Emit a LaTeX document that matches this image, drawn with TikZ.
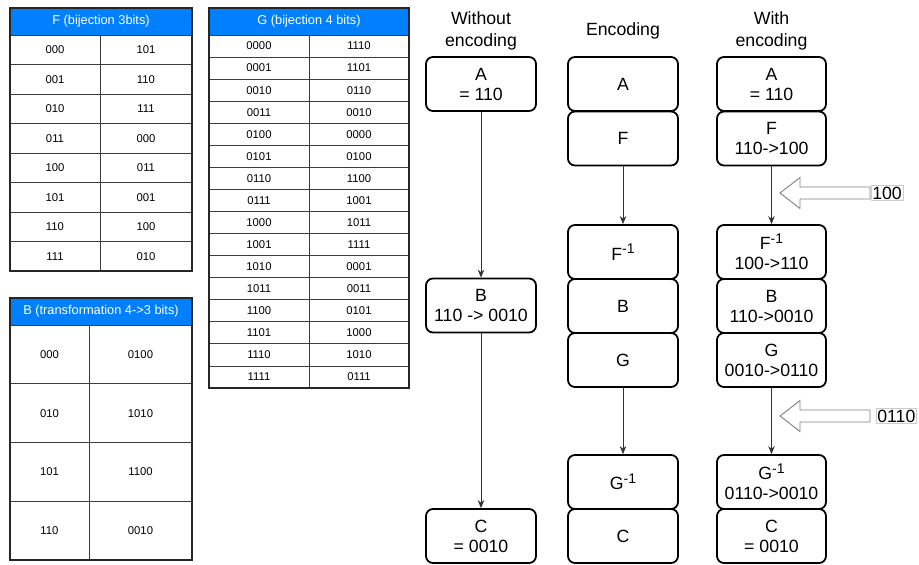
\documentclass[tikz,border=0pt]{standalone}
\usepackage{fontspec}
\setmainfont{Liberation Sans}
\usetikzlibrary{arrows.meta}
\definecolor{hdrblue}{RGB}{0,128,255}
\definecolor{gridc}{RGB}{60,60,60}
\newcommand{\invsup}{\raisebox{6.5pt}{\fontsize{14}{14}\selectfont -1}}
\begin{document}
\begin{tikzpicture}[x=1pt,y=-1pt,
  box/.style={draw, line width=1.8pt, rounded corners=7pt, minimum width=110pt,
    minimum height=54pt, align=center, font=\fontsize{17.7}{20}\selectfont, inner sep=0pt},
  ttl/.style={align=center, font=\fontsize{17.7}{22}\selectfont, inner sep=0pt},
  cell/.style={font=\fontsize{11.3}{13}\selectfont, inner sep=0pt},
  hdr/.style={font=\fontsize{12.8}{14}\selectfont, text=white, inner sep=0pt},
  hdrfill/.style={fill=hdrblue, draw=none},
  grid/.style={draw=gridc, line width=0.8pt},
  outer/.style={draw=black!85, line width=1.6pt},
  conn/.style={draw=black!80, line width=0.8pt, -{Stealth[length=8pt,width=6.5pt]}},
  blk/.style={draw=black!50, line width=0.9pt, fill=white},
  lbl/.style={draw=black!20, line width=0.6pt, font=\fontsize{17.7}{20}\selectfont, inner sep=1pt}
]
\useasboundingbox (0,0) rectangle (919,565);

% ---------- F table ----------
\fill[hdrfill] (10,8) rectangle (192,35);
\node[hdr] (fh) at (101,21.5) {F (bijection 3bits)};
\foreach \i/\a/\b in {0/000/101,1/001/110,2/010/111,3/011/000,4/100/011,5/101/001,6/110/100,7/111/010}{
  \pgfmathsetmacro{\yc}{35+29.5*\i+14.75}
  \node[cell] (f\i a) at (55,\yc) {\a};
  \node[cell] (f\i b) at (146,\yc) {\b};
}
\foreach \i in {1,...,8}{ \draw[grid] (10,35+29.5*\i) -- (192,35+29.5*\i); }
\draw[grid] (10,35) -- (192,35);
\draw[grid] (100,35) -- (100,271);
\draw[outer] (10,8) rectangle (192,271);

% ---------- G table ----------
\fill[hdrfill] (209,8) rectangle (409,35);
\node[hdr] (gh) at (309,21.5) {G (bijection 4 bits)};
\foreach \i/\a/\b in {0/0000/1110,1/0001/1101,2/0010/0110,3/0011/0010,4/0100/0000,5/0101/0100,6/0110/1100,7/0111/1001,8/1000/1011,9/1001/1111,10/1010/0001,11/1011/0011,12/1100/0101,13/1101/1000,14/1110/1010,15/1111/0111}{
  \pgfmathsetmacro{\yc}{35+22.0625*\i+11.03}
  \node[cell] (g\i a) at (259,\yc) {\a};
  \node[cell] (g\i b) at (359,\yc) {\b};
}
\foreach \i in {1,...,15}{ \draw[grid] (209,35+22.0625*\i) -- (409,35+22.0625*\i); }
\draw[grid] (209,35) -- (409,35);
\draw[grid] (309,35) -- (309,388);
\draw[outer] (209,8) rectangle (409,388);

% ---------- B table ----------
\fill[hdrfill] (10,298) rectangle (192,325);
\node[hdr] (bh) at (101,311.5) {B (transformation 4->3 bits)};
\foreach \i/\a/\b in {0/000/0100,1/010/1010,2/101/1100,3/110/0010}{
  \pgfmathsetmacro{\yc}{325+58.75*\i+29.4}
  \node[cell] (b\i a) at (49.5,\yc) {\a};
  \node[cell] (b\i b) at (140.5,\yc) {\b};
}
\foreach \i in {1,...,3}{ \draw[grid] (10,325+58.75*\i) -- (192,325+58.75*\i); }
\draw[grid] (10,325) -- (192,325);
\draw[grid] (89,325) -- (89,560);
\draw[outer] (10,298) rectangle (192,560);

% ---------- titles ----------
\node[ttl] (t1) at (481,31) {Without\\encoding};
\node[ttl] (t2) at (623,31) {Encoding};
\node[ttl] (t3) at (771.5,31) {With\\encoding};

% ---------- column 1 ----------
\node[box] (c1A) at (481,84) {A\\= 110};
\node[box] (c1B) at (481,305.5) {B\\110 -> 0010};
\node[box] (c1C) at (481,536) {C\\= 0010};
\draw[conn] (c1A) -- (c1B);
\draw[conn] (c1B) -- (c1C);

% ---------- column 2 ----------
\node[box] (c2A) at (623,84) {A};
\node[box] (c2F) at (623,138.5) {F};
\node[box] (c2Fi) at (623,252) {F\invsup};
\node[box] (c2B) at (623,306) {B};
\node[box] (c2G) at (623,360) {G};
\node[box] (c2Gi) at (623,482) {G\invsup};
\node[box] (c2C) at (623,536) {C};
\draw[conn] (c2F) -- (c2Fi);
\draw[conn] (c2G) -- (c2Gi);

% ---------- column 3 ----------
\node[box, minimum width=109pt] (c3A) at (771.5,84) {A\\= 110};
\node[box, minimum width=109pt] (c3F) at (771.5,138.5) {F\\110->100};
\node[box, minimum width=109pt] (c3Fi) at (771.5,252) {F\invsup\\100->110};
\node[box, minimum width=109pt] (c3B) at (771.5,306) {B\\110->0010};
\node[box, minimum width=109pt] (c3G) at (771.5,360) {G\\0010->0110};
\node[box, minimum width=109pt] (c3Gi) at (771.5,482) {G\invsup\\0110->0010};
\node[box, minimum width=109pt] (c3C) at (771.5,536) {C\\= 0010};
\draw[conn] (c3F) -- (c3Fi);
\draw[conn] (c3G) -- (c3Gi);

% ---------- block arrows ----------
\node[lbl, anchor=west] (l1) at (871,193) {100};
\draw[blk] (780,193) -- (800,177.5) -- (800,187) -- (870,187) -- (870,199) -- (800,199) -- (800,208.5) -- cycle;
\node[lbl, anchor=west] (l2) at (876,416) {0110};
\draw[blk] (780,416) -- (800,400.5) -- (800,410) -- (870,410) -- (870,422) -- (800,422) -- (800,431.5) -- cycle;
\end{tikzpicture}
\end{document}
